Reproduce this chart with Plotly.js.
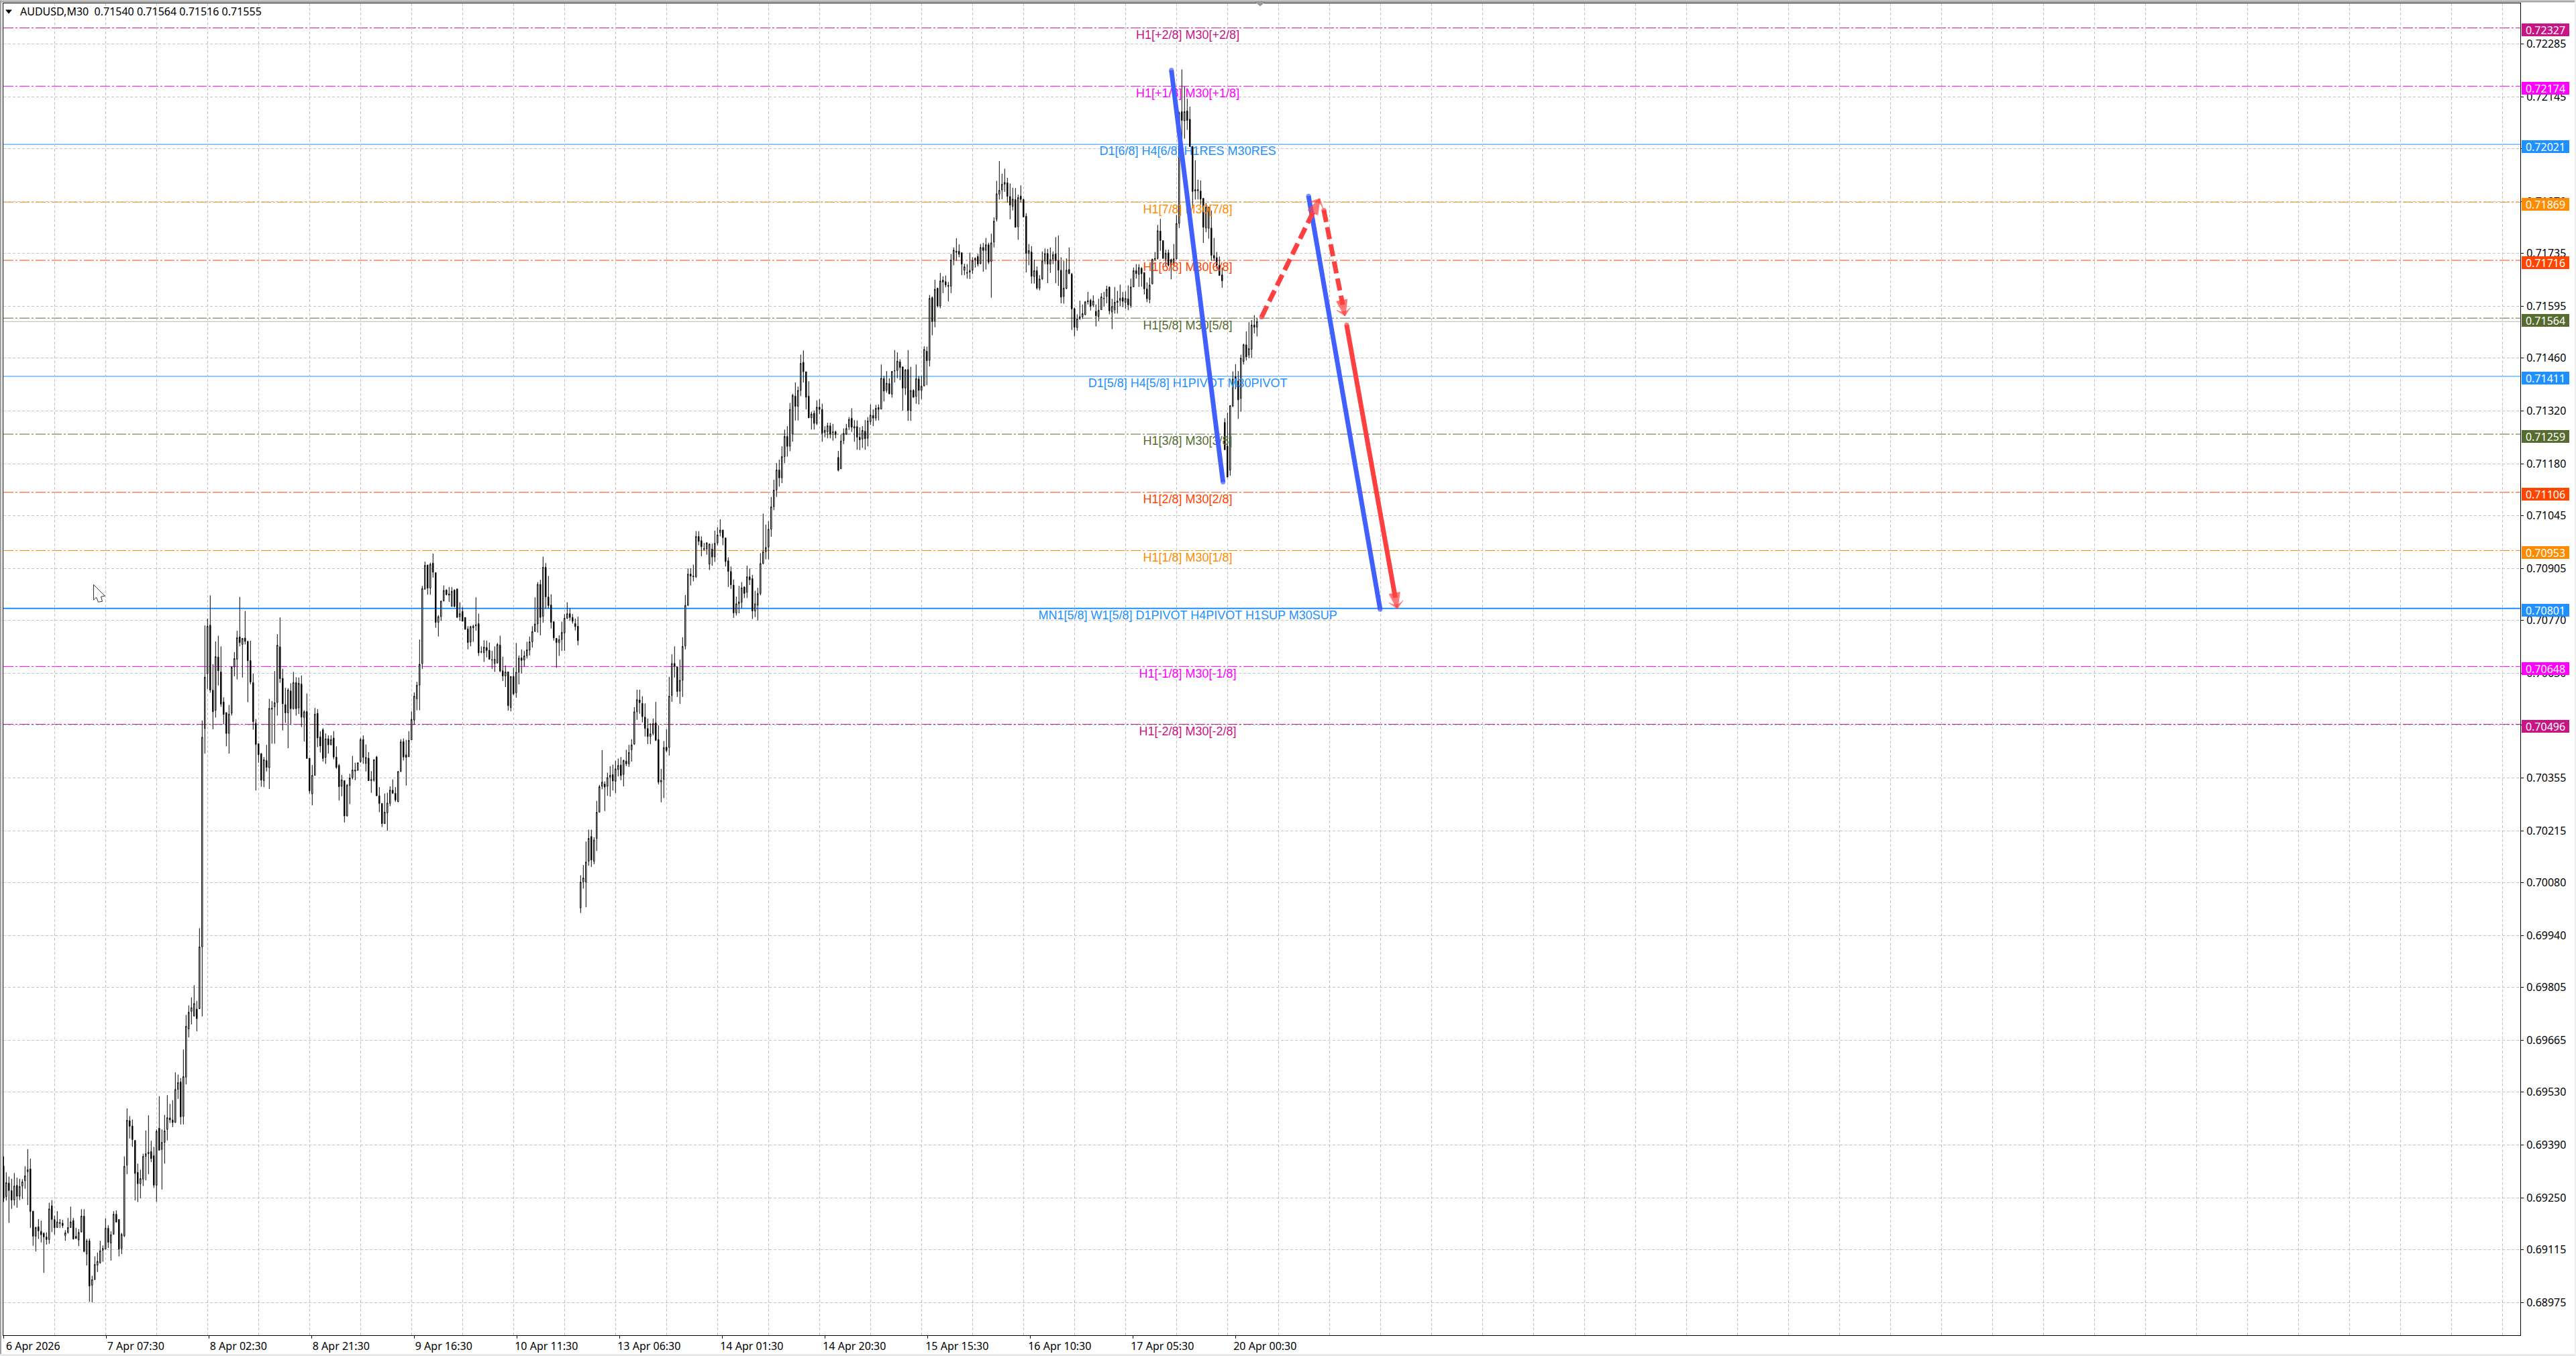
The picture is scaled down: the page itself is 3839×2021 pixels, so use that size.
<!DOCTYPE html>
<html><head><meta charset="utf-8">
<script src="https://cdn.plot.ly/plotly-3.0.1.min.js"></script>
<style>html,body{margin:0;padding:0;background:#fff}#c{width:3839px;height:2021px}</style>
</head><body><div id="c"></div>
<script>
// Prices are in points (1 point = 0.00001)
const openPts=[
69335,69254,69290,69270,69245,69284,69255,69282,69296,69319,
69327,69216,69150,69175,69163,69158,69148,69141,69230,69194,
69173,69186,69184,69152,69160,69173,69191,69150,69140,69161,
69203,69103,69138,69021,69036,69074,69080,69113,69116,69171,
69132,69155,69208,69194,69118,69151,69337,69454,69440,69402,
69318,69288,69300,69360,69367,69373,69362,69284,69434,69378,
69397,69431,69461,69456,69449,69536,69556,69465,69568,69695,
69741,69729,69747,69748,69911,70485,70629,70757,70586,70533,
70673,70634,70555,70527,70472,70525,70647,70667,70726,70706,
70723,70714,70664,70606,70499,70445,70419,70348,70401,70382,
70536,70542,70553,70700,70617,70548,70526,70584,70537,70606,
70539,70602,70514,70530,70407,70313,70362,70525,70463,70482,
70409,70458,70442,70460,70410,70388,70333,70348,70255,70335,
70356,70373,70375,70398,70456,70393,70407,70348,70349,70410,
70308,70288,70235,70263,70288,70323,70315,70293,70372,70451,
70416,70411,70455,70507,70563,70599,70656,70851,70915,70854,
70920,70895,70764,70779,70820,70849,70839,70806,70849,70852,
70779,70793,70777,70747,70712,70750,70755,70761,70687,70684,
70698,70691,70666,70656,70657,70705,70637,70623,70634,70540,
70622,70579,70633,70671,70665,70676,70691,70713,70740,70760,
70864,70780,70909,70831,70810,70766,70722,70711,70719,70736,
70775,70787,70777,70761,70754,
70013,70082,70081,70136,70201,
70136,70196,70265,70333,70339,70333,70357,70364,70346,70377,
70389,70364,70399,70392,70429,70444,70529,70560,70551,70515,
70485,70464,70472,70500,70456,70344,70351,70436,70435,70572,
70656,70647,70583,70612,70702,70809,70891,70886,70884,70990,
70979,70958,70957,70917,70957,70936,70973,71000,71007,70986,
70926,70898,70862,70789,70813,70817,70857,70843,70884,70879,
70794,70809,70840,70919,70950,70962,71009,71068,71112,71165,
71144,71200,71253,71227,71259,71359,71332,71374,71448,71423,
71359,71302,71314,71287,71330,71324,71263,71265,71281,71265,
71265,71198,71168,71242,71259,71278,71301,71275,71279,71251,
71246,71267,71248,71292,71308,71301,71329,71325,71405,71374,
71392,71364,71425,71426,71449,71436,71380,71429,71321,71374,
71358,71404,71374,71386,71477,71453,71618,71556,71643,71596,
71664,71660,71650,71648,71718,71740,71740,71736,71690,71682,
71685,71690,71721,71726,71707,71750,71742,71757,71713,71764,
71824,71890,71901,71916,71920,71884,71858,71876,71804,71885,
71876,71832,71734,71738,71673,71689,71643,71667,71714,71734,
71706,71719,71733,71715,71690,71621,71642,71692,71680,71589,
71539,71562,71568,71573,71610,71611,71598,71582,71568,71586,
71615,71621,71646,71580,71586,71605,71610,71618,71605,71615,
71597,71646,71689,71679,71695,71684,71641,71613,71654,71721,
71721,71793,71768,71719,71736,71718,71703,71720,71813,72107,
72083,72109,72087,72015,71898,71899,71898,71879,71801,71800,
71801,71729,71723,71703,71678,71290,71228,71164,71333,71410,
71399,71353,71450,71494,71467,71482,71546,71540];
const highPts=[
69360,69318,69307,69301,69316,69304,69301,69300,69334,69379,
69354,69216,69175,69195,69191,69160,69160,69238,69245,69204,
69216,69195,69193,69166,69198,69228,69198,69172,69169,69221,
69221,69143,69144,69046,69097,69107,69138,69126,69197,69179,
69163,69216,69218,69195,69159,69360,69486,69466,69457,69402,
69341,69325,69367,69428,69468,69401,69385,69431,69518,69431,
69469,69521,69498,69508,69581,69575,69566,69641,69732,69757,
69778,69810,69769,69960,70506,70756,70774,70835,70654,70714,
70729,70701,70567,70527,70547,70649,70686,70742,70831,70722,
70794,70716,70716,70629,70510,70445,70420,70410,70442,70563,
70557,70636,70733,70777,70642,70592,70591,70604,70634,70620,
70619,70624,70533,70577,70407,70389,70539,70536,70478,70486,
70472,70467,70467,70478,70438,70392,70363,70348,70339,70366,
70413,70395,70395,70460,70467,70443,70423,70373,70404,70413,
70331,70289,70314,70316,70333,70351,70331,70373,70457,70459,
70455,70478,70530,70580,70608,70719,70860,70924,70915,70921,
70945,70895,70783,70821,70861,70851,70857,70857,70851,70853,
70817,70804,70777,70754,70755,70758,70830,70787,70701,70717,
70716,70711,70689,70701,70710,70729,70674,70651,70634,70622,
70645,70710,70677,70693,70689,70713,70727,70754,70830,70870,
70876,70937,70920,70886,70838,70766,70723,70730,70766,70786,
70817,70801,70786,70774,70779,
70099,70126,70188,70219,70219,
70199,70295,70337,70428,70346,70369,70386,70390,70400,70406,
70410,70403,70429,70442,70457,70541,70587,70587,70570,70551,
70511,70499,70511,70555,70493,70379,70452,70483,70621,70680,
70701,70647,70666,70725,70836,70906,70906,70916,71004,71004,
70990,70973,70975,70971,70971,71005,71014,71035,71007,70987,
70935,70911,70877,70832,70860,70870,70859,70913,70906,70889,
70847,70855,70946,71050,71021,71030,71094,71139,71183,71192,
71227,71271,71280,71341,71365,71395,71384,71468,71479,71423,
71398,71318,71321,71348,71351,71339,71280,71289,71289,71286,
71268,71215,71258,71274,71286,71304,71327,71296,71295,71277,
71280,71296,71304,71337,71324,71336,71337,71442,71412,71425,
71406,71424,71480,71474,71456,71436,71430,71480,71436,71377,
71442,71412,71412,71490,71489,71625,71621,71665,71643,71683,
71674,71676,71659,71733,71750,71774,71758,71737,71707,71706,
71736,71724,71724,71733,71759,71762,71775,71762,71786,71829,
71925,71977,71944,71957,71933,71918,71907,71906,71889,71913,
71878,71840,71759,71753,71718,71700,71677,71739,71747,71746,
71750,71739,71777,71781,71724,71714,71721,71750,71683,71592,
71574,71610,71600,71609,71633,71615,71624,71600,71615,71630,
71633,71649,71647,71615,71646,71636,71652,71633,71634,71650,
71668,71697,71706,71706,71698,71684,71658,71671,71720,71738,
71809,71825,71768,71744,71744,71720,71759,71835,72107,72218,
72173,72141,72120,72017,71979,71928,71926,71879,71867,71856,
71847,71775,71738,71726,71697,71301,71315,71334,71424,71443,
71425,71468,71497,71529,71553,71559,71572,71564];
const lowPts=[
69240,69244,69185,69222,69231,69225,69245,69248,69275,69232,
69172,69125,69110,69143,69134,69054,69128,69130,69161,69154,
69172,69172,69172,69138,69157,69172,69141,69144,69124,69160,
69108,69073,68978,68976,69036,69056,69078,69083,69116,69119,
69086,69154,69187,69097,69103,69148,69313,69407,69385,69244,
69240,69250,69282,69297,69313,69345,69277,69241,69376,69273,
69341,69402,69448,69437,69449,69511,69444,69444,69549,69673,
69707,69728,69689,69748,69728,70419,70589,70579,70483,70514,
70598,70542,70496,70438,70419,70519,70622,70614,70701,70619,
70706,70554,70601,70482,70322,70395,70332,70331,70372,70326,
70445,70445,70519,70605,70480,70500,70433,70496,70535,70519,
70523,70489,70451,70406,70314,70283,70361,70436,70422,70398,
70392,70419,70442,70404,70379,70296,70307,70238,70254,70286,
70351,70349,70375,70395,70392,70372,70347,70316,70345,70308,
70265,70226,70234,70216,70281,70313,70292,70291,70371,70401,
70335,70410,70455,70495,70533,70533,70642,70851,70837,70837,
70882,70750,70727,70768,70820,70835,70818,70806,70804,70777,
70768,70767,70745,70693,70701,70713,70742,70676,70683,70660,
70672,70666,70642,70634,70657,70633,70610,70594,70532,70530,
70573,70566,70601,70630,70648,70669,70677,70698,70740,70737,
70730,70763,70801,70801,70748,70716,70645,70676,70689,70689,
70773,70768,70761,70743,70704,
70000,70064,70015,70124,70121,
70128,70163,70265,70325,70268,70308,70306,70322,70315,70359,
70349,70333,70386,70384,70398,70442,70508,70524,70501,70464,
70444,70444,70467,70452,70338,70291,70302,70423,70414,70555,
70619,70568,70550,70568,70693,70807,70861,70872,70881,70967,
70938,70953,70942,70902,70913,70923,70967,70990,70967,70911,
70857,70852,70776,70782,70788,70801,70828,70828,70862,70773,
70778,70769,70835,70917,70930,70930,70989,71059,71094,71121,
71130,71183,71200,71214,71239,71295,71295,71359,71395,71324,
71301,71271,71271,71283,71312,71239,71251,71248,71248,71242,
71248,71161,71167,71233,71257,71270,71265,71239,71218,71217,
71223,71218,71227,71283,71280,71294,71295,71324,71345,71368,
71364,71355,71395,71406,71401,71321,71362,71294,71294,71355,
71339,71337,71351,71384,71388,71437,71519,71540,71592,71590,
71630,71645,71608,71630,71703,71715,71724,71677,71677,71668,
71667,71680,71697,71700,71706,71686,71692,71706,71618,71750,
71818,71876,71877,71896,71868,71824,71847,71802,71770,71868,
71830,71684,71703,71655,71655,71639,71637,71665,71706,71656,
71683,71706,71656,71649,71603,71602,71640,71680,71533,71516,
71531,71560,71562,71572,71600,71584,71593,71542,71556,71586,
71595,71603,71574,71535,71576,71576,71595,71593,71589,71585,
71591,71646,71668,71646,71647,71626,71606,71603,71653,71715,
71718,71741,71721,71700,71700,71666,71703,71719,71801,72035,
72036,72059,72015,71853,71876,71876,71862,71762,71790,71773,
71715,71715,71694,71676,71644,71218,71146,71150,71330,71377,
71299,71318,71442,71453,71459,71459,71524,71516];
const closePts=[
69250,69291,69270,69245,69282,69255,69281,69293,69309,69325,
69215,69150,69173,69164,69154,69148,69141,69222,69194,69172,
69188,69184,69178,69159,69173,69188,69143,69144,69160,69203,
69110,69138,69019,69036,69076,69084,69112,69118,69171,69134,
69154,69208,69187,69116,69155,69334,69455,69439,69404,69315,
69288,69302,69360,69367,69371,69354,69284,69426,69376,69397,
69427,69462,69456,69449,69536,69554,69464,69570,69702,69739,
69751,69762,69722,69911,70462,70620,70754,70586,70529,70674,
70637,70549,70522,70472,70523,70646,70669,70724,70711,70722,
70714,70663,70607,70503,70443,70416,70349,70403,70383,70538,
70539,70553,70704,70616,70550,70526,70586,70537,70606,70537,
70604,70515,70529,70406,70321,70362,70523,70460,70439,70406,
70458,70442,70456,70410,70383,70332,70350,70255,70336,70355,
70376,70376,70395,70456,70409,70409,70348,70351,70403,70308,
70288,70235,70265,70289,70323,70315,70297,70372,70450,70410,
70409,70454,70509,70570,70599,70654,70853,70914,70854,70917,
70896,70764,70779,70820,70848,70837,70836,70846,70806,70777,
70787,70767,70746,70711,70753,70754,70758,70684,70686,70699,
70690,70667,70665,70667,70706,70636,70623,70634,70545,70622,
70576,70633,70670,70664,70676,70692,70713,70740,70760,70864,
70777,70909,70831,70808,70764,70723,70711,70719,70738,70775,
70787,70777,70767,70753,70716,
70081,70092,70134,70196,70139,
70192,70265,70332,70344,70331,70356,70362,70347,70379,70388,
70361,70401,70392,70422,70442,70529,70561,70553,70516,70485,
70464,70471,70498,70454,70344,70349,70435,70427,70570,70656,
70648,70582,70612,70701,70809,70891,70886,70884,70990,70977,
70963,70956,70973,70970,70936,70972,70994,71007,70987,70924,
70898,70863,70789,70813,70818,70855,70840,70884,70876,70794,
70813,70840,70919,70950,70961,71009,71068,71112,71165,71144,
71200,71253,71227,71324,71361,71332,71374,71445,71423,71356,
71302,71312,71287,71330,71324,71261,71269,71281,71259,71263,
71258,71164,71241,71261,71274,71298,71277,71279,71251,71244,
71269,71247,71294,71309,71301,71327,71324,71406,71372,71393,
71365,71424,71426,71451,71434,71380,71428,71321,71374,71356,
71405,71374,71385,71482,71452,71616,71555,71640,71596,71662,
71659,71651,71648,71717,71743,71737,71732,71706,71699,71684,
71689,71715,71718,71706,71750,71742,71757,71711,71762,71819,
71891,71900,71916,71921,71884,71861,71877,71803,71881,71876,
71830,71734,71742,71674,71689,71643,71667,71714,71734,71706,
71718,71731,71715,71690,71619,71643,71690,71681,71588,71540,
71562,71568,71576,71607,71607,71595,71609,71570,71585,71620,
71616,71640,71583,71595,71606,71609,71616,71608,71616,71599,
71646,71689,71681,71697,71681,71641,71615,71651,71719,71719,
71794,71768,71721,71735,71703,71703,71720,71813,72104,72084,
72107,72084,72015,71897,71902,71902,71877,71803,71856,71856,
71729,71722,71703,71676,71662,71218,71146,71334,71404,71403,
71349,71459,71494,71462,71484,71546,71540,71555];

const levelValues=[0.72327,0.72174,0.72021,0.71869,0.71716,0.71564,0.71411,0.71259,0.71106,0.70953,0.70801,0.70648,0.70496];
const levelTexts=["H1[+2/8] M30[+2/8]","H1[+1/8] M30[+1/8]","D1[6/8] H4[6/8] H1RES M30RES","H1[7/8] M30[7/8]","H1[6/8] M30[6/8]","H1[5/8] M30[5/8]","D1[5/8] H4[5/8] H1PIVOT M30PIVOT","H1[3/8] M30[3/8]","H1[2/8] M30[2/8]","H1[1/8] M30[1/8]","MN1[5/8] W1[5/8] D1PIVOT H4PIVOT H1SUP M30SUP","H1[-1/8] M30[-1/8]","H1[-2/8] M30[-2/8]"];
const levelColors=["#C71585","#FF00FF","#1E90FF","#FF8C00","#FF4500","#556B2F","#1E90FF","#556B2F","#FF4500","#FF8C00","#1E90FF","#FF00FF","#C71585"];
const levelWidths=[1,1,1,1,1,1,1,1,1,1,2,1,1];
const levelDashes=["d","d","s","d","d","d","s","d","d","d","s","d","d"];
const bidPrice=0.71555;

const yTickPts=[72285,72145,72010,71870,71735,71595,71460,71320,71180,71045,70905,70770,70630,70495,70355,70215,70080,69940,69805,69665,69530,69390,69250,69115,68975];
const xTickBars=[0,38.25,76.5,114.75,153,191.25,229.5,267.75,306,344.25,382.5,420.75,459];
const xTickLabels=["6 Apr 2026","7 Apr 07:30","8 Apr 02:30","8 Apr 21:30","9 Apr 16:30","10 Apr 11:30","13 Apr 06:30","14 Apr 01:30","14 Apr 20:30","15 Apr 15:30","16 Apr 10:30","17 Apr 05:30","20 Apr 00:30"];
const xGridBars=[19,38,57,76,95,114,133,152,171,190,209,228,247,266,285,304,323,342,361,380,399,418,437,456,475,494,513,532,551,570,589,608,627,646,665,684,703,722,741,760,779,798,817,836,855,874,893,912,931];

const blueA={x:[435.1,454.35],y:[0.72216,0.71133]};
const blueB={x:[486.2,512.9],y:[0.71885,0.70798]};
const redA={x:[468.7,490.7],y:[0.71567,0.71883]};
const redB={x:[491.9,499.9],y:[0.71848,0.71565]};
const redC={x:[500.4,519.4],y:[0.71546,0.70795]};
const headerText="AUDUSD,M30\u00A0\u00A00.71540 0.71564 0.71516 0.71555";
const labelDrop=0.00005;

// ---- drawing ----
const W=3839,H=2021,L=5,R=3756,T=4.5,B=1990;
const px=v=>(v-L)/(R-L), py=v=>(B-v)/(B-T);
const toPrice=a=>a.map(v=>v/100000);
const bars=openPts.map((_,i)=>i);
const uiFont='"Noto Sans", sans-serif';
const BLUE='#4060FF',RED='#FF4040';

const rect=(x0,y0,x1,y1,c)=>({type:'rect',xref:'paper',yref:'paper',x0:px(x0),x1:px(x1),y0:py(y0),y1:py(y1),fillcolor:c,line:{width:0},layer:'above'});
const shapes=[];
levelValues.forEach((v,i)=>shapes.push({type:'line',xref:'paper',yref:'y',x0:0,x1:1,y0:v,y1:v,layer:'below',
  line:{color:levelColors[i],width:levelWidths[i],dash:levelDashes[i]==='d'?'15px,3px,3px,3px':'solid'}}));
shapes.push({type:'line',xref:'paper',yref:'y',x0:0,x1:1,y0:bidPrice,y1:bidPrice,layer:'below',line:{color:'#B4B4B4',width:1}});
shapes.push(rect(0,0,W,3,'#A8A8A8'),rect(0,0,2,H,'#A0A0A0'),rect(0,2018,W,H,'#E8E8E8'),rect(3837,0,W,H,'#EEEEEE'));
const glyph=(ax,ay,path,fill,stroke)=>({type:'path',xref:'paper',yref:'paper',xsizemode:'pixel',ysizemode:'pixel',xanchor:px(ax),yanchor:py(ay),path,fillcolor:fill,line:{color:stroke,width:stroke?1:0},layer:'above'});
shapes.push(glyph(13,14,'M-5,0 L5,0 L0,-6 Z','#000',null));
shapes.push(glyph(1878,0,'M-8,-2 L8,-2 L0,-9 Z','#999999',null));
shapes.push(glyph(139.5,871,'M0,0 L17,-17 L11,-18 L13,-25 L7,-26 L4,-19 L0,-23 Z','#fff','#333'));

const tags=levelValues.map((v,i)=>({xref:'paper',yref:'y',x:1,y:v,xanchor:'left',yanchor:'middle',xshift:2,yshift:-3,
  text:v.toFixed(5),showarrow:false,width:71,height:19,bgcolor:levelColors[i],borderpad:0,borderwidth:0,align:'center',
  font:{family:uiFont,size:16,color:'#fff'}}));
tags.push({xref:'paper',yref:'paper',x:px(29),y:py(17),xanchor:'left',yanchor:'middle',text:headerText,showarrow:false,borderpad:0,
  font:{family:uiFont,size:16,color:'#000'}});

const cap=(d,color,w)=>({type:'scatter',mode:'lines+markers',x:d.x,y:d.y,hoverinfo:'skip',
  line:{color,width:w},marker:{symbol:'circle',size:[w,w],color,line:{width:0}}});
// an arrow: round-capped shaft stopping short of the tip, then a head whose point sits on the tip
const arrow=(d,frac,dash,w)=>{
  const sx=d.x[0]+(d.x[1]-d.x[0])*frac, sy=d.y[0]+(d.y[1]-d.y[0])*frac;
  return [
   {type:'scatter',mode:'lines+markers',x:[d.x[0],sx],y:[d.y[0],sy],hoverinfo:'skip',
    line:{color:RED,width:w,dash:dash?'18px,8px':'solid'},marker:{symbol:'circle',size:[w,0],color:RED,line:{width:0}}},
   {type:'scatter',mode:'markers',x:[sx,d.x[1]],y:[sy,d.y[1]],hoverinfo:'skip',
    marker:{symbol:'arrow-wide',angleref:'previous',standoff:[0,3],size:[0,15],color:RED,line:{color:RED,width:[0,1]}}},
   {type:'scatter',mode:'markers',x:[sx,d.x[1]],y:[sy,d.y[1]],hoverinfo:'skip',
    marker:{symbol:'arrow',angleref:'previous',standoff:[0,3],size:[0,24],color:RED,line:{color:RED,width:[0,2]}}}
  ];
};

const traces=[
 {type:'candlestick',x:bars,open:toPrice(openPts),high:toPrice(highPts),low:toPrice(lowPts),close:toPrice(closePts),whiskerwidth:0,hoverinfo:'skip',
  increasing:{line:{color:'#000',width:1},fillcolor:'#fff'},decreasing:{line:{color:'#000',width:1},fillcolor:'#000'}},
 ...levelValues.map((v,i)=>({type:'scatter',mode:'text',x:[441.2],y:[v-labelDrop],text:[levelTexts[i]],textposition:'bottom center',hoverinfo:'skip',
   textfont:{family:'"Liberation Sans", Arial, sans-serif',size:18,color:levelColors[i]}})),
 cap(blueA,BLUE,7),cap(blueB,BLUE,7),
 ...arrow(redA,0.90,true,7),...arrow(redB,0.88,true,7),...arrow(redC,0.955,false,7)
];

const gridC='#C4C4C4';
const layout={width:W,height:H,margin:{l:L,r:W-R,t:T,b:H-B,pad:0,autoexpand:false},paper_bgcolor:'#fff',plot_bgcolor:'#fff',showlegend:false,hovermode:false,boxgap:0.5,
 xaxis:{type:'linear',range:[(L-5.3)/4,(R-5.3)/4],rangeslider:{visible:false},autorange:false,showgrid:false,zeroline:false,
  showline:true,mirror:true,linecolor:'#000',linewidth:1,ticks:'outside',ticklen:4,tickcolor:'#000',tickmode:'array',tickvals:xTickBars,ticktext:xTickLabels,
  ticklabelshift:44,ticklabelstandoff:-2,tickangle:0,tickfont:{family:uiFont,size:16,color:'#000'},
  minor:{tickmode:'array',tickvals:xGridBars,showgrid:true,gridcolor:gridC,griddash:'4px,3px',gridwidth:1,ticks:''}},
 yaxis:{range:[0.688898,0.723917],autorange:false,side:'right',showgrid:true,gridcolor:gridC,griddash:'4px,3px',gridwidth:1,zeroline:false,
  showline:true,mirror:true,linecolor:'#000',linewidth:1,ticks:'outside',ticklen:4,tickcolor:'#000',tickmode:'array',tickvals:yTickPts.map(v=>v/100000),ticktext:yTickPts.map(v=>(v/100000).toFixed(5)),
  ticklabelstandoff:1,tickfont:{family:uiFont,size:16,color:'#000'}},
 shapes,annotations:tags};
Plotly.newPlot('c',traces,layout,{staticPlot:true,displayModeBar:false});
</script></body></html>
